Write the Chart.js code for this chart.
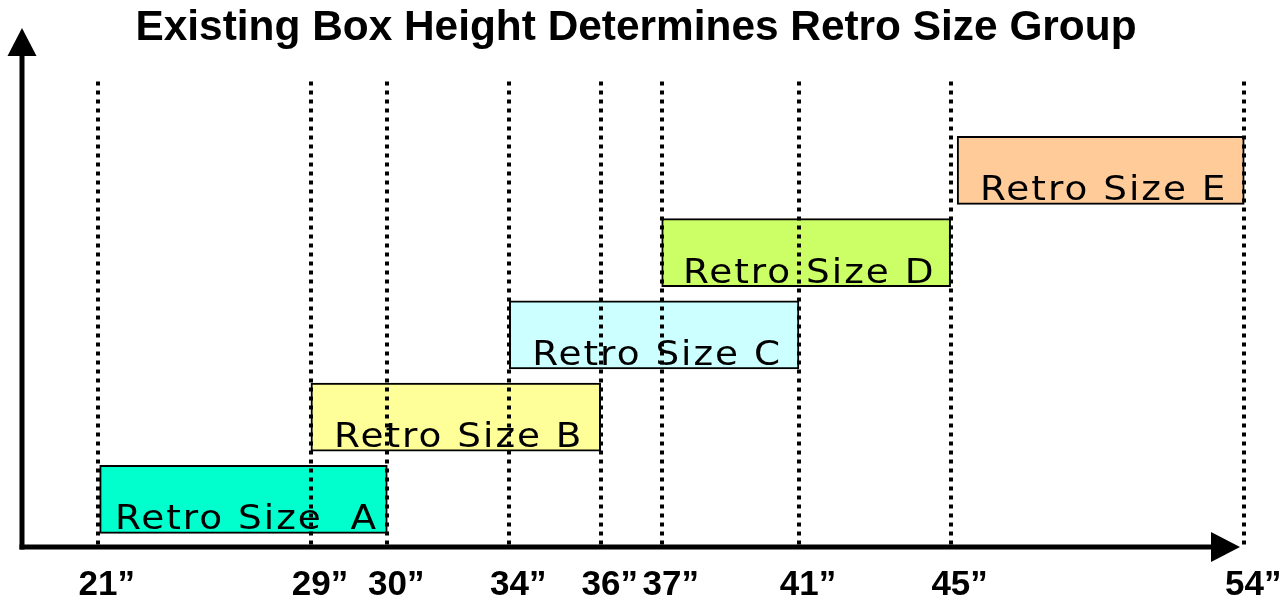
<!DOCTYPE html>
<html>
<head>
<meta charset="utf-8">
<script src="https://cdn.jsdelivr.net/npm/chart.js@4"></script>
<style>
  html, body { margin: 0; padding: 0; background: #fff; }
  #wrap { width: 1283px; height: 602px; position: relative; }
</style>
</head>
<body>
<div id="wrap"><canvas id="c"></canvas></div>
<script>
// ---- data ----
const titleText = 'Existing Box Height Determines Retro Size Group';
const tickInches = [21, 29, 30, 34, 36, 37, 41, 45, 54];
const tickLabels = ['21\u201D', '29\u201D', '30\u201D', '34\u201D', '36\u201D', '37\u201D', '41\u201D', '45\u201D', '54\u201D'];
// schematic (not-to-scale) placement of each height along the axis, 0..100
const schematicPos = [0, 18.6, 25.26, 35.9, 43.87, 49.19, 61.16, 74.39, 100];
const groupNames = ['Retro Size  A', 'Retro Size B', 'Retro Size C', 'Retro Size D', 'Retro Size E'];
const boxStart = [21, 29, 34, 37, 45.2];
const boxEnd = [30, 36, 41, 45, 54];
const groupLevel = [1, 2, 3, 4, 5];
const groupColors = ['#00FFCC', '#FFFF99', '#CCFFFF', '#CCFF66', '#FFCC99'];

// map inches -> schematic axis position (piecewise between the marked heights)
function toAxis(v) {
  for (let i = 0; i < tickInches.length - 1; i++) {
    const a = tickInches[i], b = tickInches[i + 1];
    if (v >= a && v <= b) {
      return schematicPos[i] + (v - a) / (b - a) * (schematicPos[i + 1] - schematicPos[i]);
    }
  }
  return v < tickInches[0] ? schematicPos[0] : schematicPos[schematicPos.length - 1];
}
const tickPositions = tickInches.map(toAxis);

const boxData = groupLevel.map((lv, i) => ({ x: [toAxis(boxStart[i]), toAxis(boxEnd[i])], y: lv }));

const boxLabelPlugin = {
  id: 'boxLabels',
  afterDatasetsDraw(chart) {
    const ctx = chart.ctx;
    const meta = chart.getDatasetMeta(0);
    meta.data.forEach((bar, i) => {
      const p = bar.getProps(['x', 'y', 'base', 'height'], true);
      const cx = (p.x + p.base) / 2 + 3;
      const by = p.y + p.height / 2 - 4;
      ctx.save();
      ctx.translate(cx, by);
      ctx.scale(1.1, 1);
      ctx.font = '34px "DejaVu Sans"';
      try { ctx.letterSpacing = '1.8px'; } catch (e) {}
      ctx.fillStyle = '#000';
      ctx.textAlign = 'center';
      ctx.textBaseline = 'alphabetic';
      ctx.fillText(groupNames[i], 0, 0);
      ctx.restore();
    });
  }
};

const axisArrowPlugin = {
  id: 'axisArrows',
  afterDraw(chart) {
    const ctx = chart.ctx;
    const a = chart.chartArea;
    ctx.save();
    ctx.fillStyle = '#000';
    ctx.strokeStyle = '#000';
    // vertical axis
    ctx.lineWidth = 5;
    ctx.beginPath();
    ctx.moveTo(a.left, a.bottom + 2.5);
    ctx.lineTo(a.left, 54);
    ctx.stroke();
    ctx.beginPath();
    ctx.moveTo(a.left, 28);
    ctx.lineTo(a.left - 14.5, 56);
    ctx.lineTo(a.left + 14.5, 56);
    ctx.closePath();
    ctx.fill();
    // horizontal axis
    ctx.beginPath();
    ctx.moveTo(a.left - 2.5, a.bottom);
    ctx.lineTo(a.right - 38, a.bottom);
    ctx.stroke();
    ctx.beginPath();
    ctx.moveTo(a.right - 10, a.bottom);
    ctx.lineTo(a.right - 39, a.bottom - 15);
    ctx.lineTo(a.right - 39, a.bottom + 15);
    ctx.closePath();
    ctx.fill();
    ctx.restore();
  }
};

new Chart(document.getElementById('c'), {
  type: 'bar',
  data: {
    datasets: [{
      data: boxData,
      backgroundColor: groupColors,
      borderColor: '#000',
      borderWidth: 2,
      borderSkipped: false,
      barThickness: 68
    }]
  },
  options: {
    indexAxis: 'y',
    responsive: true,
    maintainAspectRatio: false,
    animation: false,
    layout: { padding: { left: 22, right: 33, top: 0, bottom: -21 } },
    plugins: {
      legend: { display: false },
      tooltip: { enabled: false },
      title: {
        display: true,
        text: titleText,
        color: '#000',
        font: { family: '"Liberation Sans", Arial, sans-serif', size: 42.4, weight: 'bold', lineHeight: 1.2 },
        padding: { top: 3, bottom: 27.6 }
      }
    },
    scales: {
      x: {
        type: 'linear',
        min: -6.6,
        max: 100.5,
        offset: false,
        afterBuildTicks(scale) {
          scale.ticks = tickPositions.map(v => ({ value: v }));
        },
        ticks: {
          autoSkip: false,
          maxRotation: 0,
          minRotation: 0,
          padding: 10,
          labelOffset: 9,
          color: '#000',
          font: { family: '"Liberation Sans", Arial, sans-serif', size: 35, weight: 'bold', lineHeight: 1.6 },
          callback(value) {
            const idx = tickPositions.findIndex(p => Math.abs(p - value) < 1e-6);
            return idx >= 0 ? tickLabels[idx] : '';
          }
        },
        grid: {
          display: true,
          drawTicks: false,
          offset: false,
          z: 1,
          color: '#000',
          lineWidth: 4
        },
        border: { display: false, dash: [4, 5] }
      },
      y: {
        type: 'linear',
        display: false,
        offset: false,
        grid: { offset: false },
        min: 0.42,
        max: 6.08
      }
    }
  },
  plugins: [boxLabelPlugin, axisArrowPlugin]
});
</script>
</body>
</html>
